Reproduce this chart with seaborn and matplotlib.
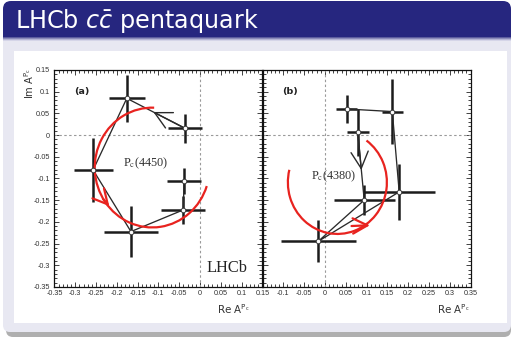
import matplotlib
matplotlib.use("Agg")
import matplotlib.pyplot as plt
import seaborn as sns
from matplotlib.patches import Arc, FancyBboxPatch, Rectangle
from matplotlib.transforms import IdentityTransform
from matplotlib.ticker import MultipleLocator

# ---------------- data ----------------
# panel (a) Pc(4450): Argand points in path order
a_re = [-0.036, -0.176, -0.257, -0.166, -0.040, -0.0385]
a_im = [0.0154, 0.0845, -0.0806, -0.2225, -0.1725, -0.106]
a_re_err = [0.041, 0.043, 0.047, 0.065, 0.053, 0.042]
a_im_err = [0.034, 0.054, 0.073, 0.058, 0.033, 0.030]

# panel (b) Pc(4380)
b_re = [0.079, 0.0945, -0.016, 0.1786, 0.162, 0.052]
b_im = [0.006, -0.150, -0.245, -0.131, 0.054, 0.060]
b_re_err = [0.027, 0.073, 0.090, 0.0855, 0.0255, 0.026]
b_im_err = [0.055, 0.035, 0.048, 0.065, 0.074, 0.032]

# Breit-Wigner circles (center, radius, start/end angle in degrees)
a_circle_center = (-0.115, -0.075)
a_circle_r = 0.138
a_circle_theta = (88, 342)
b_circle_center = (0.030, -0.109)
b_circle_r = 0.119
b_circle_theta = (166, 414)

# red direction arrows (tail, tip)
a_red_arrow = [(-0.2327, -0.1477), (-0.218, -0.164)]
b_red_arrow = [(0.064, -0.2097), (0.108, -0.208)]
# black arrows: (segment start index, fraction along segment)
a_black_arrow = (0, 0.545)
b_black_arrow = (0, 0.555)

x_ticks_a = [-0.35, -0.3, -0.25, -0.2, -0.15, -0.1, -0.05, 0, 0.05, 0.1, 0.15]
x_labels_a = ["-0.35", "-0.3", "-0.25", "-0.2", "-0.15", "-0.1", "-0.05", "0", "0.05", "0.1", "0.15"]
x_ticks_b = [-0.1, -0.05, 0, 0.05, 0.1, 0.15, 0.2, 0.25, 0.3, 0.35]
x_labels_b = ["-0.1", "-0.05", "0", "0.05", "0.1", "0.15", "0.2", "0.25", "0.3", "0.35"]
y_ticks = [0.15, 0.1, 0.05, 0, -0.05, -0.1, -0.15, -0.2, -0.25, -0.3, -0.35]
y_labels = ["0.15", "0.1", "0.05", "0", "-0.05", "-0.1", "-0.15", "-0.2", "-0.25", "-0.3", "-0.35"]

slide_title = r"LHCb $c\bar{c}$ pentaquark"
x_title = r"Re A$^{\mathrm{P_c}}$"
y_title = r"Im A$^{\mathrm{P_c}}$"

# ---------------- style ----------------
sns.set_style("ticks")
plt.rcParams["font.family"] = ["DejaVu Sans"]

W, H = 514, 342
fig = plt.figure(figsize=(W / 100, H / 100), dpi=100)
fig.patch.set_facecolor("white")
T = IdentityTransform()


def py(y):  # top-based pixel -> display
    return H - y


# slide background decorations
NAVY = "#26267f"
LAV = "#e8e8f2"
fig.add_artist(FancyBboxPatch((6, py(337)), 505, 300, boxstyle="round,pad=0,rounding_size=7",
                              transform=T, fc="#7a7a7a", ec="none", zorder=-20, alpha=0.6))
fig.add_artist(FancyBboxPatch((3, py(332)), 508, 300, boxstyle="round,pad=0,rounding_size=7",
                              transform=T, fc=LAV, ec="none", zorder=-19))
fig.add_artist(Rectangle((3, py(60)), 508, 24, transform=T, fc=LAV, ec="none", zorder=-18))
fig.add_artist(FancyBboxPatch((3, py(37)), 508, 36, boxstyle="round,pad=0,rounding_size=8",
                              transform=T, fc=NAVY, ec="none", zorder=-17))
fig.add_artist(Rectangle((3, py(37)), 508, 14, transform=T, fc=NAVY, ec="none", zorder=-16))
for i, c in enumerate(["#5c5c9e", "#8a8aba", "#b4b4d4", "#d5d5e8"]):
    fig.add_artist(Rectangle((3, py(38 + i)), 508, 1, transform=T, fc=c, ec="none", zorder=-15))
fig.add_artist(Rectangle((14, py(323)), 493, 272, transform=T, fc="white", ec="none", zorder=-14))

fig.text(15 / W, 1 - 28.3 / H, slide_title, color="white", fontsize=17.2, ha="left",
         va="baseline", math_fontfamily="dejavusans", zorder=5)

# axes
x0_a, x0_b, top, wpx, hpx = 54.4, 262.5, 69.9, 208, 217
ax_a = fig.add_axes([x0_a / W, 1 - (top + hpx) / H, wpx / W, hpx / H])
ax_b = fig.add_axes([x0_b / W, 1 - (top + hpx) / H, wpx / W, hpx / H])

RED = "#e8231f"
EB = "#1c1c1c"


def panel(ax, re, im, re_err, im_err, cc, cr, ct, red_arrow, black_arrow, xlim):
    ax.set_facecolor("white")
    ax.axhline(0, color="#9a9a9a", lw=0.8, ls=(0, (2.2, 2.2)), zorder=1)
    ax.axvline(0, color="#9a9a9a", lw=0.8, ls=(0, (2.2, 2.2)), zorder=1)
    ax.errorbar(re, im, xerr=re_err, yerr=im_err, fmt="none", ecolor=EB,
                elinewidth=1.8, capsize=0, zorder=3)
    sns.lineplot(x=re, y=im, sort=False, estimator=None, ax=ax, color="#2a2a2a",
                 lw=0.95, zorder=4)
    i, f = black_arrow
    vx = re[i] + f * (re[i + 1] - re[i])
    vy = im[i] + f * (im[i + 1] - im[i])
    ax.annotate("", xy=(vx, vy), xytext=(re[i], im[i]),
                arrowprops=dict(arrowstyle="->,head_length=1.2,head_width=0.62",
                                color="#2a2a2a", lw=1.0, shrinkA=0, shrinkB=0), zorder=4)
    sns.scatterplot(x=re, y=im, ax=ax, s=11, color="white", edgecolor="#3a3a3a",
                    linewidth=0.7, zorder=6)
    ax.add_patch(Arc(cc, 2 * cr, 2 * cr, theta1=ct[0], theta2=ct[1], color=RED,
                     lw=1.6, zorder=5))
    ax.annotate("", xy=red_arrow[1], xytext=red_arrow[0],
                arrowprops=dict(arrowstyle="->,head_length=1.05,head_width=0.55",
                                color=RED, lw=1.6, shrinkA=0, shrinkB=0), zorder=5)
    ax.set_xlim(*xlim)
    ax.set_ylim(-0.35, 0.15)
    ax.xaxis.set_minor_locator(MultipleLocator(0.01))
    ax.yaxis.set_minor_locator(MultipleLocator(0.01))
    ax.tick_params(which="both", direction="in", top=True, right=True,
                   width=0.6, color="#222222", labelsize=5.2, labelcolor="#333333")
    ax.tick_params(which="major", length=3.8, pad=2.2)
    ax.tick_params(which="minor", length=2.0)
    for s in ax.spines.values():
        s.set_color("#111111")
        s.set_linewidth(0.9)
    ax.set_xlabel("")
    ax.set_ylabel("")


panel(ax_a, a_re, a_im, a_re_err, a_im_err, a_circle_center, a_circle_r, a_circle_theta,
      a_red_arrow, a_black_arrow, (-0.35, 0.15))
panel(ax_b, b_re, b_im, b_re_err, b_im_err, b_circle_center, b_circle_r, b_circle_theta,
      b_red_arrow, b_black_arrow, (-0.15, 0.35))

ax_a.set_xticks(x_ticks_a, x_labels_a, family="Liberation Sans")
ax_a.set_yticks(y_ticks, y_labels, family="Liberation Sans")
ax_b.set_xticks(x_ticks_b, x_labels_b, family="Liberation Sans")
ax_b.set_yticks(y_ticks, [""] * len(y_ticks))
ax_a.tick_params(axis="y", pad=3)
for ax in (ax_a, ax_b):
    ax.set_xlim(ax.get_xlim())
    ax.set_ylim(-0.35, 0.15)

# in-panel text
ax_a.text(-0.302, 0.101, "(a)", fontsize=6.8, fontweight="bold", ha="left", va="center",
          color="#222222")
ax_b.text(-0.1017, 0.101, "(b)", fontsize=6.8, fontweight="bold", ha="left", va="center",
          color="#222222")
ax_a.text(-0.186, -0.0645, r"P$_{\mathrm{c}}$(4450)", fontsize=8.8, family="Liberation Serif",
          math_fontfamily="stix", ha="left", va="center", color="#333333", zorder=7)
ax_b.text(-0.033, -0.096, r"P$_{\mathrm{c}}$(4380)", fontsize=8.8, family="Liberation Serif",
          math_fontfamily="stix", ha="left", va="center", color="#333333", zorder=7)
ax_a.text(0.015, -0.307, "LHCb", fontsize=11.8, family="Liberation Serif", ha="left",
          va="center", color="#222222", zorder=7)

# axis titles
fig.text(250 / W, 1 - 309 / H, x_title, fontsize=7.4, ha="right", va="center", color="#333333")
fig.text(470 / W, 1 - 309 / H, x_title, fontsize=7.4, ha="right", va="center", color="#333333")
fig.text(29.5 / W, 1 - 68 / H, y_title, fontsize=7.2, rotation=90, ha="center", va="top",
         color="#333333")

fig.savefig("out.png", dpi=100)
